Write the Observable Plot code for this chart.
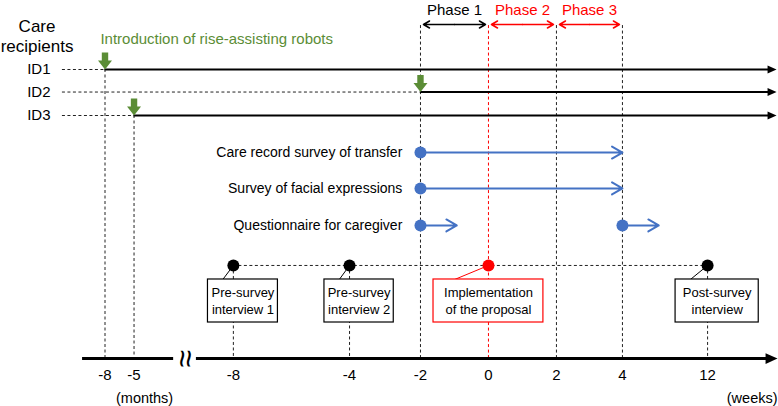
<!DOCTYPE html>
<html><head><meta charset="utf-8">
<script src="https://cdn.jsdelivr.net/npm/d3@7"></script>
<script src="https://cdn.jsdelivr.net/npm/@observablehq/plot@0.6"></script>
<style>body{margin:0;background:#fff}</style>
</head><body><div id="chart"></div>
<script>
// ---------------- data ----------------
const tickLabels = ["-8", "-5", "-8", "-4", "-2", "0", "2", "4", "12"];
const tickUnits  = ["m", "m", "w", "w", "w", "w", "w", "w", "w"];
// schematic (not-to-scale) axis position of each tick
const tickPos    = [0, 0.88, 3.89, 7.41, 9.56, 11.62, 13.68, 15.68, 18.26];

const recipients = ["ID1", "ID2", "ID3"];
const robotIntroAt = ["-8m", "-2w", "-5m"];

const phaseNames = ["Phase 1", "Phase 2", "Phase 3"];
const phaseFrom  = ["-2w", "0w", "2w"];
const phaseTo    = ["0w", "2w", "4w"];

const surveyNames = ["Care record survey of transfer", "Survey of facial expressions", "Questionnaire for caregiver"];
const surveyFrom  = ["-2w", "-2w", "-2w"];
const surveyTo    = ["4w", "4w", null];
const questionnaireAt = ["-2w", "4w"];

const interviewNames = ["Pre-survey\ninterview 1", "Pre-survey\ninterview 2", "Implementation\nof the proposal", "Post-survey\ninterview"];
const interviewAt    = ["-8w", "-4w", "0w", "12w"];
const interviewMain  = [false, false, true, false];

const introText = "Introduction of rise-assisting robots";

// ---------------- layout / style ----------------
const T = {};
tickLabels.forEach((l, i) => T[l + tickUnits[i]] = tickPos[i]);
const GREEN = "#5b8d36", BLUE = "#4472c4", RED = "#ff0000";
const FONT = "Liberation Sans, Arial, Helvetica, sans-serif";
const Y = {phaseText: 0.44, phaseArrow: 1.043, guideTop: 1.09, care: 1.52, intro: 1.7,
  id: [3.0, 3.98, 5.0], survey: [6.61, 8.17, 9.78], interview: 11.52,
  boxTop: 12.13, boxBottom: 14.0, boxText: 13.02, axis: 15.57, tickText: 16.3, unitText: 17.3};
const LX = {care: -2.06, idLabel: -1.65, dashStart: -1.29, intro: -0.14, end: 20.35,
  axisLeft: [-0.68, 2.08], axisRight: 2.77, brk: 2.42, months: 1.2, weeks: 20.38};
const boxW = [2.12, 2.1, 3.33, 2.52];
const boxShift = 0.29, qLen = 1.1;

const fatArrow = {draw(c, l) {
  const hw = 7, sw = 3.2, hl = 9;
  c.moveTo(-sw, 0); c.lineTo(-sw, -(l - hl)); c.lineTo(-hw, -(l - hl));
  c.lineTo(0, -l); c.lineTo(hw, -(l - hl)); c.lineTo(sw, -(l - hl)); c.lineTo(sw, 0); c.closePath();
}};
const triHead = {draw(c, l) { c.moveTo(0, -l); c.lineTo(-l * 0.45, 0); c.lineTo(l * 0.45, 0); c.closePath(); }};

// ---------------- derived tables ----------------
const recip = recipients.map((id, i) => ({id, y: Y.id[i], start: T[robotIntroAt[i]]}));
const phases = phaseNames.map((name, i) => {
  const a = T[phaseFrom[i]], b = T[phaseTo[i]];
  return {name, a, b, mid: (a + b) / 2, color: i === 0 ? "black" : RED};
});
const phaseHalves = phases.flatMap(p => [{x1: p.mid, x2: p.a + 0.09, color: p.color}, {x1: p.mid, x2: p.b - 0.09, color: p.color}]);
const guides = [
  ...["-2w", "2w", "4w"].map(k => ({x: T[k], y1: Y.guideTop, y2: Y.axis, color: "#222"})),
  {x: T["0w"], y1: Y.guideTop, y2: Y.axis, color: RED},
  ...recip.filter(r => r.id !== "ID2").map(r => ({x: r.start, y1: r.y, y2: Y.axis, color: "#222"})),
  ...interviewAt.filter((k, i) => !interviewMain[i]).map(k => ({x: T[k], y1: Y.interview, y2: Y.axis, color: "#222"}))
];
const surveys = surveyNames.map((name, i) => ({name, y: Y.survey[i], a: T[surveyFrom[i]], b: surveyTo[i] ? T[surveyTo[i]] : null}));
const surveyArrows = [
  ...surveys.filter(s => s.b != null).map(s => ({x1: s.a, x2: s.b, y: s.y})),
  ...questionnaireAt.map(k => ({x1: T[k], x2: T[k] + qLen, y: Y.survey[2]}))
];
const surveyDots = [
  ...surveys.filter(s => s.b != null).map(s => ({x: s.a, y: s.y})),
  ...questionnaireAt.map(k => ({x: T[k], y: Y.survey[2]}))
];
const interviews = interviewNames.map((name, i) => {
  const x = T[interviewAt[i]], c = x + (interviewMain[i] ? 0 : boxShift);
  const left = c - boxW[i] / 2;
  return {name, x, c, left, right: c + boxW[i] / 2, conn: left + (interviewMain[i] ? 0.64 : 0.45),
    color: interviewMain[i] ? RED : "black"};
});
const ticks = tickLabels.map((label, i) => ({label, x: tickPos[i]}));

const chart = Plot.plot({
  width: 778, height: 406,
  marginTop: 0, marginBottom: 0, marginLeft: 0, marginRight: 0,
  x: {domain: [-3.1667, 20.409], range: [0, 778], axis: null},
  y: {domain: [0, 17.652], range: [0, 406], axis: null},
  style: {fontFamily: FONT, background: "#fff", overflow: "visible"},
  marks: [
    // vertical dashed guides
    Plot.ruleX(guides, {x: "x", y1: "y1", y2: "y2", stroke: "color", strokeWidth: 1, strokeDasharray: "3,2.5"}),
    // interview dashed line
    Plot.ruleY([Y.interview], {x1: T["-8w"], x2: T["12w"], stroke: "#222", strokeWidth: 1, strokeDasharray: "3,2.5"}),
    // ID lines
    Plot.ruleY(recip, {y: "y", x1: LX.dashStart, x2: "start", stroke: "#222", strokeWidth: 1, strokeDasharray: "3,2.5"}),
    Plot.ruleY(recip, {y: "y", x1: "start", x2: LX.end - 0.15, stroke: "black", strokeWidth: 2}),
    Plot.vector(recip, {x: LX.end, y: "y", length: 9, rotate: 90, anchor: "end", shape: triHead, fill: "black", stroke: "none"}),
    Plot.vector(recip, {x: "start", y: "y", length: 17, rotate: 180, anchor: "end", shape: fatArrow, fill: GREEN, stroke: "none"}),
    Plot.text([introText], {x: LX.intro, y: Y.intro, text: d => d, textAnchor: "start", fontSize: 15, fill: GREEN}),
    Plot.text(["Care\nrecipients"], {x: LX.care, y: Y.care, text: d => d, fontSize: 17, lineHeight: 1.18, fill: "black"}),
    Plot.text(recip, {x: LX.idLabel, y: "y", text: "id", textAnchor: "end", fontSize: 15, fill: "black"}),
    // phases
    Plot.arrow(phaseHalves, {x1: "x1", x2: "x2", y1: Y.phaseArrow, y2: Y.phaseArrow, stroke: "color", strokeWidth: 1.5, headLength: 7}),
    Plot.text(phases, {x: "mid", y: Y.phaseText, text: "name", fill: "color", fontSize: 15}),
    // surveys
    Plot.arrow(surveyArrows, {x1: "x1", x2: "x2", y1: "y", y2: "y", stroke: BLUE, strokeWidth: 2, headLength: 9}),
    Plot.dot(surveyDots, {x: "x", y: "y", r: 6, fill: BLUE, stroke: "none"}),
    Plot.text(surveys, {x: d => d.a - 0.55, y: "y", text: "name", textAnchor: "end", fontSize: 14, fill: "black"}),
    // interviews
    Plot.link(interviews, {x1: "conn", y1: Y.boxTop, x2: "x", y2: Y.interview, stroke: "color", strokeWidth: 1}),
    Plot.rect(interviews, {x1: "left", x2: "right", y1: Y.boxTop, y2: Y.boxBottom, fill: "white", stroke: "color", strokeWidth: 1.2}),
    Plot.text(interviews, {x: "c", y: Y.boxText, text: "name", fontSize: 13, lineHeight: 1.3, fill: "black"}),
    Plot.dot(interviews, {x: "x", y: Y.interview, r: 6, fill: "color", stroke: "none"}),
    // main axis
    Plot.ruleY([Y.axis], {x1: LX.axisLeft[0], x2: LX.axisLeft[1], stroke: "black", strokeWidth: 3}),
    Plot.ruleY([Y.axis], {x1: LX.axisRight, x2: LX.end - 0.2, stroke: "black", strokeWidth: 3}),
    Plot.vector([0], {x: LX.end + 0.03, y: Y.axis, length: 12, rotate: 90, anchor: "end", shape: triHead, fill: "black", stroke: "none"}),
    Plot.text(["≈"], {x: LX.brk, y: Y.axis, text: d => d, rotate: 90, fontSize: 32, fill: "black"}),
    Plot.text(ticks, {x: "x", y: Y.tickText, text: "label", fontSize: 15, fill: "black"}),
    Plot.text(["(months)"], {x: LX.months, y: Y.unitText, text: d => d, fontSize: 14.5, fill: "black"}),
    Plot.text(["(weeks)"], {x: LX.weeks, y: Y.unitText, text: d => d, textAnchor: "end", fontSize: 14.5, fill: "black"})
  ]
});
document.getElementById("chart").append(chart);
</script>
</body></html>
